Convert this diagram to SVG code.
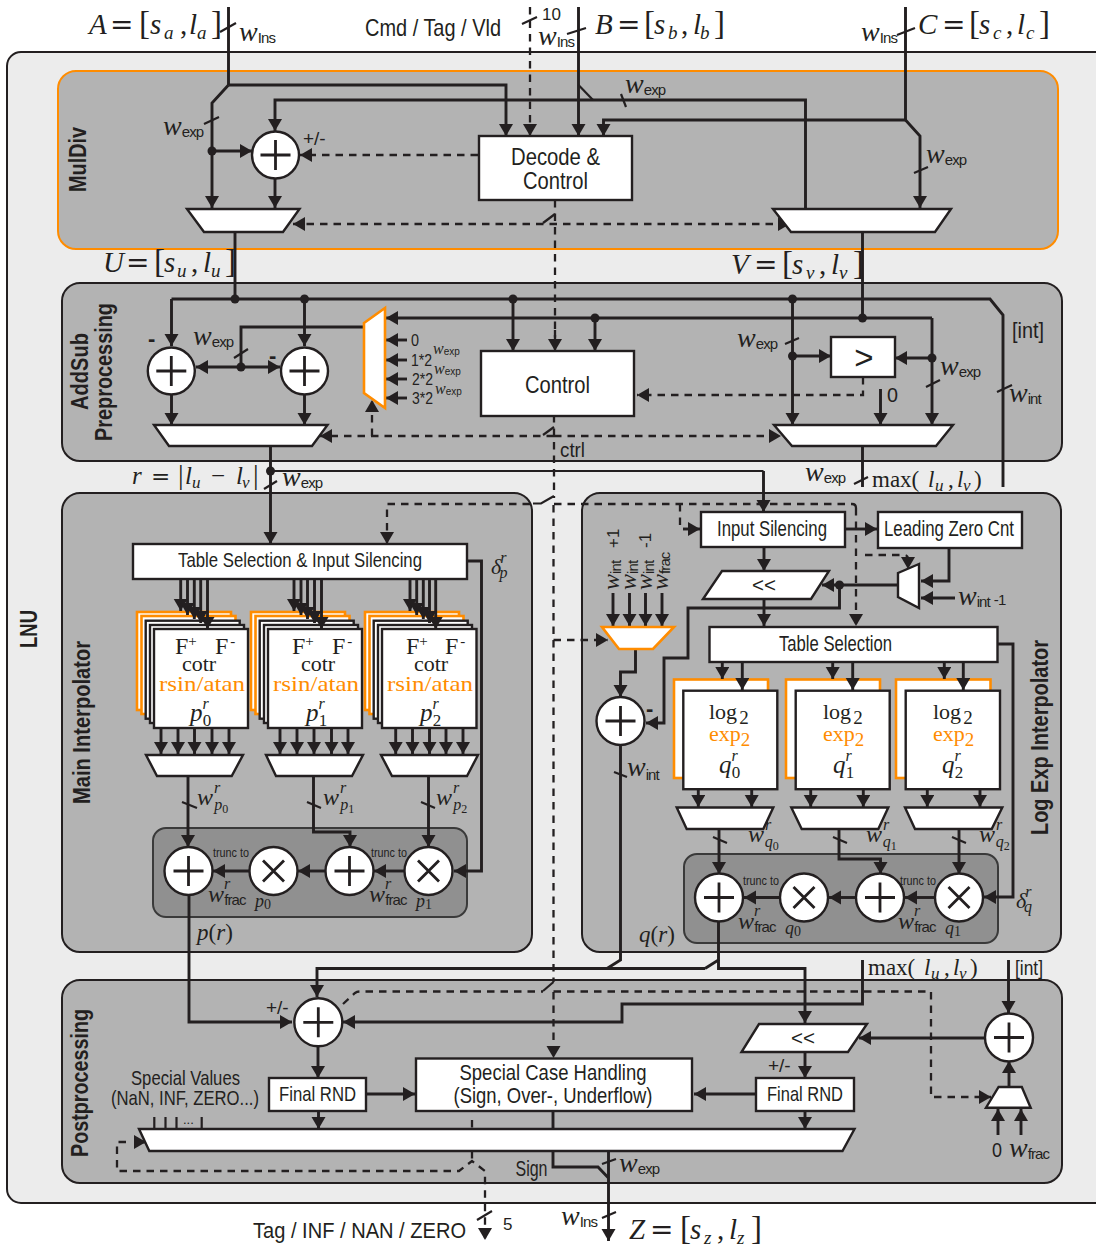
<svg xmlns="http://www.w3.org/2000/svg" width="1096" height="1247" viewBox="0 0 1096 1247">
<style>
text{fill:#231f20}
.s{font-family:"Liberation Sans",Arial,sans-serif}
.r{font-family:"Liberation Serif","Times New Roman",serif;font-style:normal}
.i{font-family:"Liberation Serif","Times New Roman",serif;font-style:italic}
.e{font-family:"DejaVu Serif",serif;font-style:normal;font-weight:normal}
.b{font-family:"Liberation Sans",Arial,sans-serif;font-weight:bold}
.lbl{font-family:"Liberation Sans",Arial,sans-serif;font-size:24px}
.sm{font-size:12px;font-family:"Liberation Sans",Arial,sans-serif}
.w{font-family:"Liberation Serif",serif;font-style:italic;font-size:28px}
.wr{font-family:"Liberation Serif",serif;font-style:italic;font-size:24px}
.u,.sub{font-family:"Liberation Sans",Arial,sans-serif;font-style:normal;font-size:15px;letter-spacing:-.9px}
.sup{font-family:"Liberation Serif",serif;font-style:italic;font-size:16px}
.o{fill:#ff8c00}
.panel{fill:#b3b3b3;stroke:#231f20;stroke-width:2}
.dark{fill:#909090;stroke:#3a3a3a;stroke-width:2}
.box{fill:#fff;stroke:#231f20;stroke-width:2.4}
.obox{fill:#fff;stroke:#ff8c00;stroke-width:2.6}
.op{fill:none;stroke:#231f20;stroke-width:2.8}
.c{fill:none;stroke:#231f20;stroke-width:2.9;stroke-linejoin:miter}
.t{stroke-width:2.2}
.d{stroke-dasharray:7.500 6;stroke-width:2.300}
.a{marker-end:url(#ah)}
.aa{marker-start:url(#ah);marker-end:url(#ah)}
.dot{fill:#231f20}
</style>
<defs>
<marker id="ah" markerUnits="userSpaceOnUse" markerWidth="13" markerHeight="15" refX="12" refY="7" orient="auto-start-reverse"><path d="M0 0L12 7L0 14z" fill="#231f20"/></marker>
</defs>

<g id="lnu"><rect x="7" y="52" width="1110" height="1151" rx="14" fill="#ececec" stroke="#231f20" stroke-width="2"/>
<text class="b" font-size="24" transform="translate(37 648) rotate(-90)" textLength="38" lengthAdjust="spacingAndGlyphs">LNU</text></g>
<g id="muldiv-panel"><rect x="58" y="71" width="1000" height="178" rx="18" fill="#b3b3b3" stroke="#ff8c00" stroke-width="2"/>
<text class="b" font-size="24" transform="translate(86 192) rotate(-90)" textLength="65" lengthAdjust="spacingAndGlyphs">MulDiv</text></g>
<g id="addsub-panel"><rect x="62" y="283" width="1000" height="178" rx="18" class="panel"/>
<text class="b" font-size="24" transform="translate(88 410) rotate(-90)" textLength="77" lengthAdjust="spacingAndGlyphs">AddSub</text>
<text class="b" font-size="24" transform="translate(112 441) rotate(-90)" textLength="138" lengthAdjust="spacingAndGlyphs">Preprocessing</text></g>
<g id="main-panel"><rect x="62" y="493" width="470" height="459" rx="18" class="panel"/>
<text class="b" font-size="24" transform="translate(90 804) rotate(-90)" textLength="163" lengthAdjust="spacingAndGlyphs">Main Interpolator</text>
<rect x="153" y="828" width="314" height="89" rx="13" class="dark"/></g>
<g id="log-panel"><rect x="582" y="493" width="479" height="459" rx="18" class="panel"/>
<text class="b" font-size="24" transform="translate(1048 835) rotate(-90)" textLength="195" lengthAdjust="spacingAndGlyphs">Log Exp Interpolator</text>
<rect x="684" y="854" width="314" height="89" rx="13" class="dark"/></g>
<g id="post-panel"><rect x="62" y="980" width="1000" height="203" rx="18" class="panel"/>
<text class="b" font-size="24" transform="translate(88 1157) rotate(-90)" textLength="148" lengthAdjust="spacingAndGlyphs">Postprocessing</text></g>

<g id="connectors">
<path class="c" d="M228.500 7V85"/>
<path class="c a" d="M228.500 85H506V136"/>
<path class="c a" d="M228.500 85L212 103V208"/>
<path class="c a" d="M212 151H252"/>
<path class="c a" d="M805.500 208V100H275V131"/>
<path class="c a" d="M578.500 7V136"/>
<path class="c t" d="M578.500 85L593 100"/>
<path class="c a" d="M905.500 7V120H603.500V136"/>
<path class="c a" d="M905.500 120L920 136V208"/>
<path class="c a" d="M275 179V208"/>
<path class="c d a" d="M530 7V136"/>
<path class="c d a" d="M478 155H300"/>
<path class="c d" d="M555 200V345"/>
<path class="c d a" d="M555 330V351"/>
<path class="c t" d="M555 214L543 223"/>
<path class="c d aa" d="M293 224H790"/>
<path class="c" d="M235 232V299"/>
<path class="c" d="M862.500 232V318"/>
<path class="c" d="M171.500 299H990L1003 315V487"/>
<path class="c a" d="M171.500 299V346"/>
<path class="c a" d="M304.500 299V346"/>
<path class="c a" d="M513 299V351"/>
<path class="c a" d="M595 318V351"/>
<path class="c a" d="M932 318H386"/>
<path class="c a" d="M932 318V425"/>
<path class="c a" d="M792.500 299V425"/>
<path class="c a" d="M792.500 356H831"/>
<path class="c a" d="M932 358H895"/>
<path class="c a" d="M880.500 389V425"/>
<path class="c d a" d="M863 377V395H637"/>
<path class="c aa" d="M196 367H280"/>
<path class="c" d="M364 327H241V367"/>
<path class="c a" d="M407 340H386"/>
<path class="c a" d="M407 360H386"/>
<path class="c a" d="M407 379H386"/>
<path class="c a" d="M407 398H386"/>
<path class="c a" d="M171.500 395V425"/>
<path class="c a" d="M304.500 395V425"/>
<path class="c d a" d="M372 436V400"/>
<path class="c d" d="M554 415V498"/>
<path class="c t" d="M554 427L543 435"/>
<path class="c d a" d="M554 436H320"/>
<path class="c d a" d="M554 436H781"/>
<path class="c a" d="M270.500 446V544"/>
<path class="c t" d="M270.500 471H763.500"/>
<path class="c a" d="M763.500 471V512"/>
<path class="c" d="M862.500 446V487"/>
<path class="c t" d="M554 496L541 503.500H533"/>
<path class="c d a" d="M530 504H387V544"/>
<path class="c d" d="M554 504H852Q856 504 856 508"/>
<path class="c d a" d="M856 508V626"/>
<path class="c d" d="M680 504V529"/>
<path class="c a" d="M683 529H700"/>
<path class="c d" d="M553.500 505V640"/>
<path class="c d a" d="M553.500 640H608"/>
<path class="c d" d="M553.500 640V982"/>
<path class="c t" d="M553.500 982L543 991"/>
<path class="c d a" d="M553.500 992V1058"/>
<path class="c d" d="M343 1004L355 993Q357 991.500 360 991.500H543"/>
<path class="c d a" d="M553.500 991.500H931V1097H991"/>
<path class="c a" d="M161 728V754"/><path class="c a" d="M178 728V754"/><path class="c a" d="M194.500 728V754"/><path class="c a" d="M212 728V754"/><path class="c a" d="M229 728V754"/>
<path class="c a" d="M280 728V754"/><path class="c a" d="M297 728V754"/><path class="c a" d="M314 728V754"/><path class="c a" d="M331.500 728V754"/><path class="c a" d="M348 728V754"/>
<path class="c a" d="M395.700 728V754"/><path class="c a" d="M412.500 728V754"/><path class="c a" d="M429.500 728V754"/><path class="c a" d="M446 728V754"/><path class="c a" d="M463 728V754"/>
<path class="c a" d="M467 561H481.500V871H454"/>
<path class="c a" d="M188 776V847"/>
<path class="c a" d="M313.500 776V832H350V847"/>
<path class="c a" d="M428.500 776V847"/>
<path class="c a" d="M404 871H374"/>
<path class="c a" d="M326 871H298"/>
<path class="c a" d="M250 871H213"/>
<path class="c a" d="M189 895V1022H292"/>
<path class="c a" d="M845 529H877"/>
<path class="c a" d="M764 547V571"/>
<path class="c a" d="M764 599V626"/>
<path class="c a" d="M898 585H822"/>
<path class="c a" d="M839.500 585V608H688V658H664V723H646"/>
<path class="c a" d="M949 548V581H921"/>
<path class="c a" d="M955 598H921"/>
<path class="c d a" d="M865 555H904Q908 555 908 559V569"/>
<path class="c a" d="M613 593V626"/><path class="c a" d="M629.500 593V626"/><path class="c a" d="M645.500 593V626"/><path class="c a" d="M662 593V626"/>
<path class="c a" d="M635.500 649V672H620.500V697"/>
<path class="c" d="M620.500 745V960L607 968.500"/>
<path class="c a" d="M705 968.500H317V997"/>
<path class="c" d="M718.500 921V960L705 968.500"/>
<path class="c a" d="M718.500 960V968.500H805V1023"/>
<path class="c a" d="M698.300 789V807"/><path class="c a" d="M751.700 789V807"/>
<path class="c a" d="M810.700 789V807"/><path class="c a" d="M863.300 789V807"/>
<path class="c a" d="M927.300 789V807"/><path class="c a" d="M980 789V807"/>
<path class="c a" d="M998 644H1013V897H984"/>
<path class="c a" d="M719 829V874"/>
<path class="c a" d="M839 829V859H880.500V874"/>
<path class="c a" d="M959 829V874"/>
<path class="c a" d="M935 897.500H905"/>
<path class="c a" d="M856 897.500H829"/>
<path class="c a" d="M780 897.500H744"/>
<path class="c a" d="M862.500 960V1004H622V1022H343"/>
<path class="c a" d="M1008.500 960V1013"/>
<path class="c a" d="M985 1038H859"/>
<path class="c a" d="M805 1052V1078"/>
<path class="c a" d="M756 1094H694"/>
<path class="c a" d="M318 1046V1078"/>
<path class="c a" d="M366 1094H415"/>
<path class="c a" d="M318.500 1111V1129"/>
<path class="c a" d="M805 1111V1129"/>
<path class="c a" d="M1009 1087V1061"/>
<path class="c a" d="M998 1135V1109"/>
<path class="c a" d="M1021 1135V1109"/>
<path class="c t" d="M154.300 1117V1129M165.500 1117V1129M176.500 1117V1129M201.700 1117V1129"/>
<path class="c d" d="M472 1120V1129"/>
<path class="c d" d="M472 1151V1161"/>
<path class="c d a" d="M126 1142H117V1171H459L472 1161L485 1171V1240"/>
<path class="c a" d="M134 1142H146"/>
<path class="c" d="M553 1111V1129"/>
<path class="c" d="M553 1151V1167H598L608.500 1178"/>
<path class="c a" d="M608.500 1151V1241"/>
<g class="ticks"><path class="c t" d="M220 32L236 23M204 124L219 117M621 94L626 107M914 173L928 167M522 24L537 17M567 34L586 28M897 35L915 28M234 358L248 349M785 344L799 338M926 387L940 380M997 392L1012 385M264 489L277 481M854 484L868 477M182 802L197 808M307 802L321 808M421 802L435 808M713 837L727 843M833 837L847 843M952 837L966 843M614 772L627 777M602 1164L616 1159M602 1218L616 1212M477 1220L492 1211"/></g>
<g class="dots"><circle class="dot" cx="212" cy="151" r="4.500"/><circle class="dot" cx="235" cy="299" r="4.500"/><circle class="dot" cx="304.500" cy="299" r="4.500"/><circle class="dot" cx="513" cy="299" r="4.500"/><circle class="dot" cx="792.500" cy="299" r="4.500"/><circle class="dot" cx="595" cy="318" r="4.500"/><circle class="dot" cx="862.500" cy="318" r="4.500"/><circle class="dot" cx="241" cy="367" r="4.500"/><circle class="dot" cx="792.500" cy="356" r="4.500"/><circle class="dot" cx="932" cy="358" r="4.500"/><circle class="dot" cx="270.500" cy="471" r="4.500"/><circle class="dot" cx="839.500" cy="585" r="4.500"/></g>
</g>

<g id="decode"><rect class="box" x="479" y="136" width="153" height="64"/><text class="lbl" x="511" y="165" textLength="89" lengthAdjust="spacingAndGlyphs">Decode &amp;</text><text class="lbl" x="523" y="189" textLength="65" lengthAdjust="spacingAndGlyphs">Control</text></g>
<g id="add-muldiv"><circle class="box" cx="275.500" cy="155" r="23.500"/><path class="op" d="M260.500 155H290.500M275.500 140V170"/></g>
<g id="mux-u"><path class="box" d="M187 209H299.500L283 232H204z"/></g>
<g id="mux-v"><path class="box" d="M773 209H951L935 232H791z"/></g>
<g id="add-a1"><circle class="box" cx="171.300" cy="371" r="23.500"/><path class="op" d="M156.300 371H186.300M171.300 356V386"/></g>
<g id="add-a2"><circle class="box" cx="304.500" cy="371" r="23.500"/><path class="op" d="M289.500 371H319.500M304.500 356V386"/></g>
<g id="mux-shift"><path class="obox" d="M364 323L385 308V408L364 393z"/></g>
<g id="mux-r"><path class="box" d="M154 425H327.500L312 446H169z"/></g>
<g id="control"><rect class="box" x="481" y="351" width="153" height="65"/><text class="lbl" x="525" y="393" textLength="65" lengthAdjust="spacingAndGlyphs">Control</text></g>
<g id="compare"><rect class="box" x="831" y="337" width="64" height="40"/><text class="s" font-size="33" x="864" y="369" text-anchor="middle">&gt;</text></g>
<g id="mux-max"><path class="box" d="M774 425H953L936 446H792z"/></g>
<g id="table-main"><rect class="box" x="133" y="544" width="334" height="35"/><text class="s" font-size="21" x="178" y="567" textLength="244" lengthAdjust="spacingAndGlyphs">Table Selection &amp; Input Silencing</text></g>

<g id="stack0"><rect class="obox" x="137" y="612" width="94" height="98"/><rect class="obox" x="141.500" y="616" width="94" height="98"/><rect class="box" x="145.700" y="620.700" width="94" height="98"/><rect class="box" x="150" y="625" width="94" height="98"/><rect class="box" x="154" y="629" width="94" height="99"/>
<text class="r" font-size="24" x="175" y="654">F<tspan class="r" font-size="15" dy="-8">+</tspan></text><text class="r" font-size="24" x="215" y="654">F<tspan class="r" font-size="15" dx="2" dy="-8">-</tspan></text><text class="r" font-size="22" x="199" y="671" text-anchor="middle">cotr</text><text class="r o" font-size="22" x="159" y="691" textLength="86" lengthAdjust="spacingAndGlyphs">rsin/atan</text><text class="i" font-size="25" x="190" y="721">p<tspan class="sup" dy="-12">r</tspan><tspan class="r" font-size="17" dx="-6" dy="17">0</tspan></text></g>
<g id="stack1"><rect class="obox" x="251" y="612" width="94" height="98"/><rect class="obox" x="255.500" y="616" width="94" height="98"/><rect class="box" x="259.700" y="620.700" width="94" height="98"/><rect class="box" x="264" y="625" width="94" height="98"/><rect class="box" x="268" y="629" width="94" height="99"/>
<text class="r" font-size="24" x="292" y="654">F<tspan class="r" font-size="15" dy="-8">+</tspan></text><text class="r" font-size="24" x="332" y="654">F<tspan class="r" font-size="15" dx="2" dy="-8">-</tspan></text><text class="r" font-size="22" x="318" y="671" text-anchor="middle">cotr</text><text class="r o" font-size="22" x="273" y="691" textLength="86" lengthAdjust="spacingAndGlyphs">rsin/atan</text><text class="i" font-size="25" x="306" y="721">p<tspan class="sup" dy="-12">r</tspan><tspan class="r" font-size="17" dx="-6" dy="17">1</tspan></text></g>
<g id="stack2"><rect class="obox" x="365" y="612" width="94" height="98"/><rect class="obox" x="369.500" y="616" width="94" height="98"/><rect class="box" x="373.700" y="620.700" width="94" height="98"/><rect class="box" x="378" y="625" width="94" height="98"/><rect class="box" x="382" y="629" width="94.500" height="99"/>
<text class="r" font-size="24" x="406" y="654">F<tspan class="r" font-size="15" dy="-8">+</tspan></text><text class="r" font-size="24" x="445" y="654">F<tspan class="r" font-size="15" dx="2" dy="-8">-</tspan></text><text class="r" font-size="22" x="431" y="671" text-anchor="middle">cotr</text><text class="r o" font-size="22" x="387" y="691" textLength="86" lengthAdjust="spacingAndGlyphs">rsin/atan</text><text class="i" font-size="25" x="420" y="721">p<tspan class="sup" dy="-12">r</tspan><tspan class="r" font-size="17" dx="-6" dy="17">2</tspan></text></g>

<g id="mux-p0"><path class="box" d="M146 755H243L231.700 776H157z"/></g>
<g id="mux-p1"><path class="box" d="M266 755H363L352 776H276z"/></g>
<g id="mux-p2"><path class="box" d="M381 755H478L467 776H392z"/></g>
<g id="main-add0"><circle class="box" cx="188.500" cy="871" r="24"/><path class="op" d="M173.500 871H203.500M188.500 856V886"/></g>
<g id="main-mul0"><circle class="box" cx="273.500" cy="871" r="24"/><path class="op" d="M263 860.500L284 881.500M284 860.500L263 881.500"/></g>
<g id="main-add1"><circle class="box" cx="349.500" cy="871" r="24"/><path class="op" d="M334.500 871H364.500M349.500 856V886"/></g>
<g id="main-mul1"><circle class="box" cx="428.500" cy="871" r="24"/><path class="op" d="M418 860.500L439 881.500M439 860.500L418 881.500"/></g>

<g id="input-silencing"><rect class="box" x="701" y="512" width="144" height="35"/><text class="lbl" style="font-size:22px" x="717" y="536" textLength="110" lengthAdjust="spacingAndGlyphs">Input Silencing</text></g>
<g id="lzc"><rect class="box" x="878" y="512" width="144" height="36"/><text class="lbl" style="font-size:22px" x="884" y="536" textLength="130" lengthAdjust="spacingAndGlyphs">Leading Zero Cnt</text></g>
<g id="shift-l"><path class="box" d="M722 571H829L811 599H703z"/><text class="s" font-size="21" x="764" y="592" text-anchor="middle" textLength="24" lengthAdjust="spacingAndGlyphs">&lt;&lt;</text></g>
<g id="mux-lz"><path class="box" d="M898 573L919 564V608L898 597z"/></g>
<g id="mux-ofs"><path class="obox" d="M602 627H674L653 649H619z"/></g>
<g id="add-ofs"><circle class="box" cx="620.500" cy="721" r="24"/><path class="op" d="M605.500 721H635.500M620.500 706V736"/></g>
<g id="table-log"><rect class="box" x="709.500" y="627" width="288" height="35"/><text class="lbl" style="font-size:22px" x="779" y="651" textLength="113" lengthAdjust="spacingAndGlyphs">Table Selection</text></g>
<g id="qt0"><rect class="obox" x="674" y="679.500" width="94" height="98.500"/><rect class="box" x="683.300" y="690.700" width="94" height="98.500"/><text class="r" font-size="22" x="709" y="719">log<tspan font-size="19" dx="2" dy="5">2</tspan></text><text class="r o" font-size="22" x="709" y="741">exp<tspan font-size="19" dy="5">2</tspan></text><text class="i" font-size="25" x="719" y="773">q<tspan class="sup" dy="-12">r</tspan><tspan class="r" font-size="17" dx="-6" dy="17">0</tspan></text></g>
<g id="qt1"><rect class="obox" x="786" y="679.500" width="94" height="98.500"/><rect class="box" x="795.700" y="690.700" width="94" height="98.500"/><text class="r" font-size="22" x="823" y="719">log<tspan font-size="19" dx="2" dy="5">2</tspan></text><text class="r o" font-size="22" x="823" y="741">exp<tspan font-size="19" dy="5">2</tspan></text><text class="i" font-size="25" x="833" y="773">q<tspan class="sup" dy="-12">r</tspan><tspan class="r" font-size="17" dx="-6" dy="17">1</tspan></text></g>
<g id="qt2"><rect class="obox" x="896" y="679.500" width="94.500" height="98.500"/><rect class="box" x="905.700" y="690.700" width="94.300" height="98.500"/><text class="r" font-size="22" x="933" y="719">log<tspan font-size="19" dx="2" dy="5">2</tspan></text><text class="r o" font-size="22" x="933" y="741">exp<tspan font-size="19" dy="5">2</tspan></text><text class="i" font-size="25" x="942" y="773">q<tspan class="sup" dy="-12">r</tspan><tspan class="r" font-size="17" dx="-6" dy="17">2</tspan></text></g>
<g id="mux-q0"><path class="box" d="M676.700 807.500H773.300L763.300 829H686.700z"/></g>
<g id="mux-q1"><path class="box" d="M791.300 807.500H888.300L878.300 829H801.700z"/></g>
<g id="mux-q2"><path class="box" d="M905 807.500H1002.300L991.700 829H915z"/></g>
<g id="log-add0"><circle class="box" cx="719" cy="897.500" r="24"/><path class="op" d="M704 897.500H734M719 882.500V912.500"/></g>
<g id="log-mul0"><circle class="box" cx="804" cy="897.500" r="24"/><path class="op" d="M793.500 887L814.500 908M814.500 887L793.500 908"/></g>
<g id="log-add1"><circle class="box" cx="880" cy="897.500" r="24"/><path class="op" d="M865 897.500H895M880 882.500V912.500"/></g>
<g id="log-mul1"><circle class="box" cx="959" cy="897.500" r="24"/><path class="op" d="M948.500 887L969.500 908M969.500 887L948.500 908"/></g>

<g id="add-post"><circle class="box" cx="318.300" cy="1022.300" r="24"/><path class="op" d="M303.300 1022.300H333.300M318.300 1007.300V1037.300"/></g>
<g id="add-post2"><circle class="box" cx="1009" cy="1037.500" r="24"/><path class="op" d="M994 1037.500H1024M1009 1022.500V1052.500"/></g>
<g id="shift-r"><path class="box" d="M759 1024H867L848 1052H741.500z"/><text class="s" font-size="21" x="803" y="1045" text-anchor="middle" textLength="24" lengthAdjust="spacingAndGlyphs">&lt;&lt;</text></g>
<g id="rnd-l"><rect class="box" x="269" y="1078" width="97" height="33"/><text class="lbl" style="font-size:21px" x="279" y="1101" textLength="77" lengthAdjust="spacingAndGlyphs">Final RND</text></g>
<g id="rnd-r"><rect class="box" x="756" y="1078" width="98" height="33"/><text class="lbl" style="font-size:21px" x="767" y="1101" textLength="76" lengthAdjust="spacingAndGlyphs">Final RND</text></g>
<g id="special"><rect class="box" x="416" y="1058.500" width="276" height="52.500"/><text class="lbl" style="font-size:22px" x="459.500" y="1080" textLength="187" lengthAdjust="spacingAndGlyphs">Special Case Handling</text><text class="lbl" style="font-size:22px" x="453.500" y="1103" textLength="199" lengthAdjust="spacingAndGlyphs">(Sign, Over-, Underflow)</text></g>
<g id="mux-z"><path class="box" d="M139 1129H854.500L842.500 1151H149.300z"/></g>
<g id="mux-frac"><path class="box" d="M998.600 1087H1021.800L1030.700 1107.700H986z"/></g>

<g id="connectors-over">
<path class="c a" d="M180.700 579V611"/><path class="c a" d="M187.500 579V615"/><path class="c a" d="M194.300 579V619"/><path class="c a" d="M200.700 579V623"/><path class="c a" d="M207.500 579V629"/>
<path class="c a" d="M294 579V611"/><path class="c a" d="M301 579V615"/><path class="c a" d="M307.500 579V619"/><path class="c a" d="M314.500 579V623"/><path class="c a" d="M321.500 579V629"/>
<path class="c a" d="M410 579V611"/><path class="c a" d="M416.700 579V615"/><path class="c a" d="M423.300 579V619"/><path class="c a" d="M429.500 579V623"/><path class="c a" d="M435.700 579V629"/>
<path class="c a" d="M722.300 662V679"/><path class="c a" d="M742.300 662V690"/>
<path class="c a" d="M832.700 662V679"/><path class="c a" d="M852.700 662V690"/>
<path class="c a" d="M944.300 662V679"/><path class="c a" d="M963.300 662V690"/>
</g>

<g id="labels">
<g id="lbl-a"><text class="i" font-size="29" y="34"><tspan x="89">A</tspan><tspan class="e" x="110" font-size="28">=</tspan><tspan class="r" x="139" font-size="33">[</tspan><tspan x="150">s</tspan><tspan x="164" dy="5" font-size="19">a</tspan><tspan class="r" x="180" dy="-5">,</tspan><tspan x="189">l</tspan><tspan x="197" dy="5" font-size="19">a</tspan><tspan class="r" x="211" dy="-5" font-size="33">]</tspan></text></g>
<g id="lbl-b"><text class="i" font-size="29" y="34"><tspan x="595">B</tspan><tspan class="e" x="617" font-size="28">=</tspan><tspan class="r" x="644" font-size="33">[</tspan><tspan x="654">s</tspan><tspan x="668" dy="5" font-size="19">b</tspan><tspan class="r" x="681" dy="-5">,</tspan><tspan x="693">l</tspan><tspan x="700" dy="5" font-size="19">b</tspan><tspan class="r" x="714" dy="-5" font-size="33">]</tspan></text></g>
<g id="lbl-c"><text class="i" font-size="29" y="34"><tspan x="918">C</tspan><tspan class="e" x="942" font-size="28">=</tspan><tspan class="r" x="969" font-size="33">[</tspan><tspan x="979">s</tspan><tspan x="993" dy="5" font-size="19">c</tspan><tspan class="r" x="1006" dy="-5">,</tspan><tspan x="1017">l</tspan><tspan x="1026" dy="5" font-size="19">c</tspan><tspan class="r" x="1039" dy="-5" font-size="33">]</tspan></text></g>
<g id="lbl-u"><text class="i" font-size="29" y="272"><tspan x="103">U</tspan><tspan class="e" x="126" font-size="28">=</tspan><tspan class="r" x="154" font-size="33">[</tspan><tspan x="164">s</tspan><tspan x="177" dy="5" font-size="19">u</tspan><tspan class="r" x="191" dy="-5">,</tspan><tspan x="203">l</tspan><tspan x="211" dy="5" font-size="19">u</tspan><tspan class="r" x="225" dy="-5" font-size="33">]</tspan></text></g>
<g id="lbl-v"><text class="i" font-size="29" y="274"><tspan x="731">V</tspan><tspan class="e" x="754" font-size="28">=</tspan><tspan class="r" x="782" font-size="33">[</tspan><tspan x="792">s</tspan><tspan x="806" dy="5" font-size="19">v</tspan><tspan class="r" x="819" dy="-5">,</tspan><tspan x="831">l</tspan><tspan x="839" dy="5" font-size="19">v</tspan><tspan class="r" x="853" dy="-5" font-size="33">]</tspan></text></g>
<g id="lbl-z"><text class="i" font-size="29" y="1239"><tspan x="629">Z</tspan><tspan class="e" x="650" font-size="28">=</tspan><tspan class="r" x="680" font-size="33">[</tspan><tspan x="690">s</tspan><tspan x="704" dy="5" font-size="19">z</tspan><tspan class="r" x="717" dy="-5">,</tspan><tspan x="729">l</tspan><tspan x="737" dy="5" font-size="19">z</tspan><tspan class="r" x="751" dy="-5" font-size="33">]</tspan></text></g>
<text class="lbl" x="365" y="36" textLength="136" lengthAdjust="spacingAndGlyphs">Cmd / Tag / Vld</text>
<text class="s" font-size="17" x="542" y="20">10</text>
<text class="w" x="239" y="41">w<tspan class="u" dy="2">Ins</tspan></text>
<text class="w" x="538" y="45">w<tspan class="u" dy="2">Ins</tspan></text>
<text class="w" x="861" y="41">w<tspan class="u" dy="2">Ins</tspan></text>
<text class="w" x="561" y="1225">w<tspan class="u" dy="2">Ins</tspan></text>
<text class="w" x="163" y="135">w<tspan class="u" dy="2">exp</tspan></text>
<text class="w" x="625" y="93">w<tspan class="u" dy="2">exp</tspan></text>
<text class="w" x="926" y="163">w<tspan class="u" dy="2">exp</tspan></text>
<text class="w" x="193" y="345">w<tspan class="u" dy="2">exp</tspan></text>
<text class="w" x="737" y="347">w<tspan class="u" dy="2">exp</tspan></text>
<text class="w" x="940" y="375">w<tspan class="u" dy="2">exp</tspan></text>
<text class="w" x="282" y="486">w<tspan class="u" dy="2">exp</tspan></text>
<text class="w" x="805" y="481">w<tspan class="u" dy="2">exp</tspan></text>
<text class="w" x="619" y="1172">w<tspan class="u" dy="2">exp</tspan></text>
<text class="w" x="1009" y="402">w<tspan class="u" dy="2">int</tspan></text>
<text class="w" x="627" y="776">w<tspan class="u" dy="4">int</tspan></text>
<text class="w" x="958" y="605">w<tspan class="u" dy="2">int</tspan><tspan class="u" dy="-2" dx="4">-1</tspan></text>
<text class="w" x="1009" y="1157">w<tspan class="u" dy="2">frac</tspan></text>
<text class="s" x="303" y="145" style="font-size:19px">+/-</text>
<text class="lbl" x="1012" y="338" style="font-size:22px" textLength="32" lengthAdjust="spacingAndGlyphs">[int]</text>
<text class="lbl" x="1015" y="975" style="font-size:20px" textLength="28" lengthAdjust="spacingAndGlyphs">[int]</text>
<text class="s" font-size="21" x="560" y="457" textLength="25" lengthAdjust="spacingAndGlyphs">ctrl</text>
<text class="s" font-size="22" x="148" y="346" font-weight="bold">-</text>
<text class="s" font-size="22" x="269" y="363" font-weight="bold">-</text>
<text class="s" font-size="22" x="646" y="716" font-weight="bold">-</text>
<text class="s" font-size="17" x="411" y="346" textLength="8" lengthAdjust="spacingAndGlyphs">0</text>
<text class="s" font-size="17" x="411" y="366" textLength="21" lengthAdjust="spacingAndGlyphs">1*2</text>
<text class="s" font-size="17" x="412" y="385" textLength="21" lengthAdjust="spacingAndGlyphs">2*2</text>
<text class="s" font-size="17" x="412" y="404" textLength="21" lengthAdjust="spacingAndGlyphs">3*2</text>
<text class="i" font-size="16" x="433" y="354">w<tspan class="sub" style="font-size:10px;letter-spacing:0" dy="1">exp</tspan></text>
<text class="i" font-size="16" x="434" y="374">w<tspan class="sub" style="font-size:10px;letter-spacing:0" dy="1">exp</tspan></text>
<text class="i" font-size="16" x="435" y="394">w<tspan class="sub" style="font-size:10px;letter-spacing:0" dy="1">exp</tspan></text>
<text class="s" font-size="20" x="887" y="402" textLength="11" lengthAdjust="spacingAndGlyphs">0</text>
<g id="lbl-r"><text class="i" font-size="25" y="484"><tspan x="132">r</tspan><tspan class="e" x="151" font-size="23">=</tspan><tspan class="r" x="178" font-size="28">|</tspan><tspan x="185">l</tspan><tspan x="192" dy="4" font-size="17">u</tspan><tspan class="r" x="211" dy="-4">−</tspan><tspan x="236">l</tspan><tspan x="242" dy="4" font-size="17">v</tspan><tspan class="r" x="253" dy="-4" font-size="28">|</tspan></text></g>
<g id="lbl-max1"><text class="r" font-size="23" y="487"><tspan x="872">max(</tspan><tspan class="i" x="928">l</tspan><tspan class="i" x="935" dy="4" font-size="17">u</tspan><tspan x="948" dy="-4">,</tspan><tspan class="i" x="957">l</tspan><tspan class="i" x="963" dy="4" font-size="17">v</tspan><tspan x="974" dy="-4">)</tspan></text></g>
<g id="lbl-max2"><text class="r" font-size="23" y="975"><tspan x="868">max(</tspan><tspan class="i" x="924">l</tspan><tspan class="i" x="931" dy="4" font-size="17">u</tspan><tspan x="944" dy="-4">,</tspan><tspan class="i" x="953">l</tspan><tspan class="i" x="959" dy="4" font-size="17">v</tspan><tspan x="970" dy="-4">)</tspan></text></g>
<text class="i" font-size="22" x="491" y="574">δ<tspan class="sup" dx="-1" dy="-11">r</tspan><tspan class="sup" dx="-7" dy="15">p</tspan></text>
<text class="i" font-size="22" x="1016" y="908">δ<tspan class="sup" dx="-1" dy="-11">r</tspan><tspan class="sup" dx="-7" dy="15">q</tspan></text>
<text class="wr" x="197" y="805">w<tspan class="sup" dx="1" dy="-12">r</tspan><tspan class="sup" dx="-6" dy="17">p</tspan><tspan class="r" font-size="12" dy="3">0</tspan></text>
<text class="wr" x="323" y="805">w<tspan class="sup" dx="1" dy="-12">r</tspan><tspan class="sup" dx="-6" dy="17">p</tspan><tspan class="r" font-size="12" dy="3">1</tspan></text>
<text class="wr" x="436" y="805">w<tspan class="sup" dx="1" dy="-12">r</tspan><tspan class="sup" dx="-6" dy="17">p</tspan><tspan class="r" font-size="12" dy="3">2</tspan></text>
<text class="wr" x="748" y="842">w<tspan class="sup" dx="1" dy="-12">r</tspan><tspan class="sup" dx="-6" dy="17">q</tspan><tspan class="r" font-size="12" dy="3">0</tspan></text>
<text class="wr" x="866" y="842">w<tspan class="sup" dx="1" dy="-12">r</tspan><tspan class="sup" dx="-6" dy="17">q</tspan><tspan class="r" font-size="12" dy="3">1</tspan></text>
<text class="wr" x="979" y="842">w<tspan class="sup" dx="1" dy="-12">r</tspan><tspan class="sup" dx="-6" dy="17">q</tspan><tspan class="r" font-size="12" dy="3">2</tspan></text>
<text class="sm" x="213" y="857" textLength="36" lengthAdjust="spacingAndGlyphs">trunc to</text>
<text class="sm" x="371" y="857" textLength="36" lengthAdjust="spacingAndGlyphs">trunc to</text>
<text class="sm" x="743" y="885" textLength="36" lengthAdjust="spacingAndGlyphs">trunc to</text>
<text class="sm" x="900" y="885" textLength="36" lengthAdjust="spacingAndGlyphs">trunc to</text>
<text class="wr" x="208" y="902">w<tspan class="sup" dx="0" dy="-13">r</tspan><tspan class="u" dx="-6" dy="16">frac</tspan></text>
<text class="wr" x="369" y="902">w<tspan class="sup" dx="0" dy="-13">r</tspan><tspan class="u" dx="-6" dy="16">frac</tspan></text>
<text class="wr" x="738" y="929">w<tspan class="sup" dx="0" dy="-13">r</tspan><tspan class="u" dx="-6" dy="16">frac</tspan></text>
<text class="wr" x="898" y="929">w<tspan class="sup" dx="0" dy="-13">r</tspan><tspan class="u" dx="-6" dy="16">frac</tspan></text>
<text class="i" font-size="18" x="255" y="907">p<tspan class="r" font-size="14" dy="2">0</tspan></text>
<text class="i" font-size="18" x="416" y="907">p<tspan class="r" font-size="14" dy="2">1</tspan></text>
<text class="i" font-size="18" x="785" y="934">q<tspan class="r" font-size="14" dy="2">0</tspan></text>
<text class="i" font-size="18" x="945" y="934">q<tspan class="r" font-size="14" dy="2">1</tspan></text>
<text class="i" font-size="23" x="197" y="940">p<tspan class="r">(</tspan>r<tspan class="r">)</tspan></text>
<text class="i" font-size="23" x="639" y="942">q<tspan class="r">(</tspan>r<tspan class="r">)</tspan></text>
<text class="wr" transform="translate(619 590) rotate(-90)">w<tspan class="u" dy="2">int</tspan></text>
<text class="wr" transform="translate(635.500 590) rotate(-90)">w<tspan class="u" dy="2">int</tspan></text>
<text class="wr" transform="translate(652 590) rotate(-90)">w<tspan class="u" dy="2">int</tspan></text>
<text class="wr" transform="translate(668 590) rotate(-90)">w<tspan class="u" dy="2">frac</tspan></text>
<text class="s" font-size="17" transform="translate(619 548) rotate(-90)">+1</text>
<text class="s" font-size="17" transform="translate(651 548) rotate(-90)">-1</text>
<text class="s" style="font-size:19px" x="266" y="1014">+/-</text>
<text class="s" style="font-size:19px" x="768" y="1072">+/-</text>
<text class="lbl" style="font-size:21px" x="131" y="1085" textLength="109" lengthAdjust="spacingAndGlyphs">Special Values</text>
<text class="lbl" style="font-size:21px" x="111" y="1105" textLength="148" lengthAdjust="spacingAndGlyphs">(NaN, INF, ZERO...)</text>
<text class="s" font-size="13" x="183" y="1124">...</text>
<text class="lbl" style="font-size:22px" x="515.500" y="1176" textLength="32" lengthAdjust="spacingAndGlyphs">Sign</text>
<text class="lbl" style="font-size:22.500px" x="253" y="1238" textLength="213" lengthAdjust="spacingAndGlyphs">Tag / INF / NAN / ZERO</text>
<text class="s" font-size="17" x="503" y="1230">5</text>
<text class="lbl" style="font-size:20px" x="992" y="1157" textLength="10" lengthAdjust="spacingAndGlyphs">0</text>
</g>
</svg>
